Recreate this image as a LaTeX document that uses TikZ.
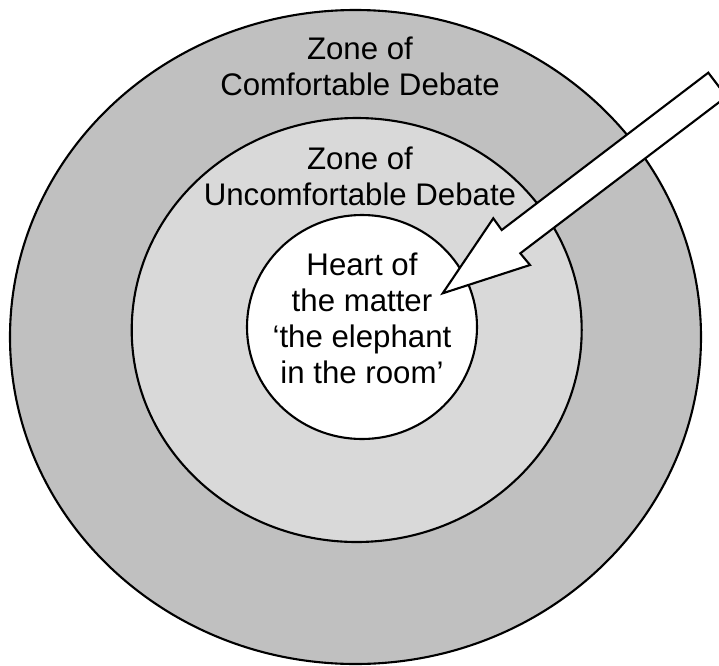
\documentclass[tikz,border=0pt]{standalone}
\usepackage{fontspec}
\setsansfont{Liberation Sans}
\usetikzlibrary{positioning}
\definecolor{outerring}{RGB}{192, 192, 192}
\definecolor{middlering}{RGB}{217, 217, 217}
\definecolor{textdark}{RGB}{0, 0, 0}

\begin{document}
\begin{tikzpicture}[
    x=0.025cm, y=-0.025cm,
    font=\sffamily\fontsize{22.2}{25.6}\selectfont,
    ring/.style={
        draw=black, line width=1.5pt,
        fill=#1
    },
    zonelabel/.style={
        anchor=base,
        align=center,
        inner sep=0pt,
        text=textdark
    },
    blockarrow/.style={
        draw=black, line width=1.5pt,
        fill=white, line join=miter
    }
]

% Page frame
\useasboundingbox (0, 0) rectangle (719, 666);

% Rings, outside in
\draw[ring=outerring] (355.5, 337) ellipse [x radius=345.5, y radius=327];
\draw[ring=middlering] (356.7, 330) ellipse [x radius=225, y radius=212];
\draw[ring=white] (362, 327) ellipse [x radius=115, y radius=112];

% Labels (base = last line)
\node[zonelabel] (comfort) at (360, 95) {Zone of\\Comfortable Debate};
\node[zonelabel] (uncomfort) at (360, 205) {Zone of\\Uncomfortable Debate};
\node[zonelabel] (heart) at (362, 383) {Heart of\\the matter\\`the elephant\\in the room'};

% Arrow pointing at the heart
\draw[blockarrow] (442.7, 293.3) -- (493.3, 218.3) -- (501.7, 230)
    -- (708.3, 72.7) -- (726.5, 96.6) -- (520.3, 253.3)
    -- (530, 265) -- cycle;

\end{tikzpicture}
\end{document}
